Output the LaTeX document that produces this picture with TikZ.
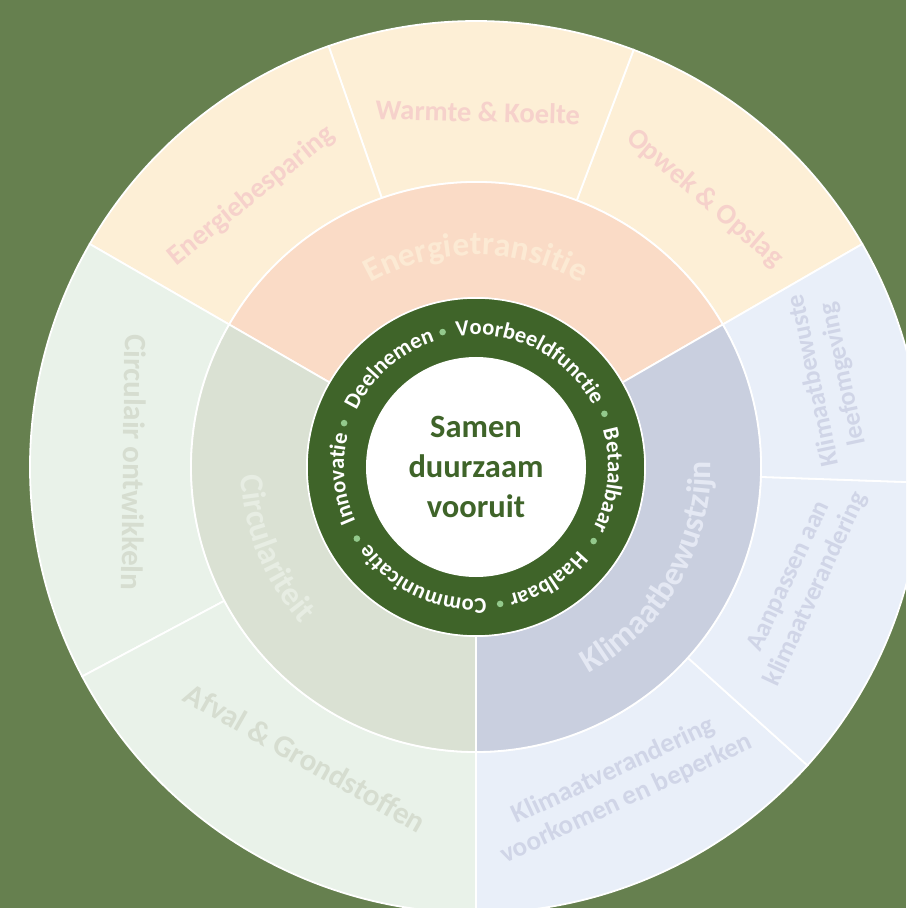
\documentclass[tikz,border=0pt]{standalone}
\usepackage{fontspec}
\setmainfont{Carlito}
\usetikzlibrary{decorations.text}
\definecolor{bg}{HTML}{66804F}
\definecolor{dkgreen}{HTML}{3F6429}
\definecolor{dotgreen}{HTML}{93C98C}
\definecolor{enmid}{HTML}{FADBC6}
\definecolor{enout}{HTML}{FDEFD6}
\definecolor{entxtmid}{HTML}{FCEAD4}
\definecolor{entxtout}{HTML}{F6D1CB}
\definecolor{cimid}{HTML}{DAE1D3}
\definecolor{ciout}{HTML}{E9F2E9}
\definecolor{citxtmid}{HTML}{E7EDE3}
\definecolor{citxtout}{HTML}{D6DDD0}
\definecolor{klmid}{HTML}{C9CFDF}
\definecolor{klout}{HTML}{E9EFF9}
\definecolor{kltxtmid}{HTML}{E4E8F3}
\definecolor{kltxtout}{HTML}{D0D5E7}
\newcommand{\annsector}[5]{%
  \filldraw[fill=#1, sectorline] (#2:#4pt) arc[start angle=#2, end angle=#3, radius=#4pt] -- (#3:#5pt) arc[start angle=#3, end angle=#2, radius=#5pt] -- cycle;}
\newcommand{\ringfont}{\fontsize{22.5}{22.5}\selectfont\bfseries\color{white}}
\newcommand{\midfont}{\fontsize{33.5}{33.5}\selectfont\bfseries}
\newcommand{\ringword}[2]{%
  \path[decorate, decoration={text along path, text align=center, text={|\ringfont|#2}}] ({#1+60}:132pt) arc[start angle={#1+60}, end angle={#1-60}, radius=132pt];}
\begin{document}
\begin{tikzpicture}[
  sectorline/.style={draw=white, line width=1.8pt},
  outlbl/.style={inner sep=0pt, align=center},
  ringdot/.style={fill=dotgreen},
]
\useasboundingbox (-476pt,-441pt) rectangle (430pt,467pt);
\clip (-476pt,-441pt) rectangle (430pt,467pt);
\fill[bg] (-476pt,-441pt) rectangle (430pt,467pt);
% outer ring
\annsector{enout}{30}{69.3}{285}{446}
\annsector{enout}{69.3}{109.3}{285}{446}
\annsector{enout}{109.3}{150}{285}{446}
\annsector{ciout}{150}{208}{285}{446}
\annsector{ciout}{208}{270}{285}{446}
\annsector{klout}{270}{318}{285}{446}
\annsector{klout}{318}{358}{285}{446}
\annsector{klout}{358}{390}{285}{446}
% middle ring
\annsector{enmid}{30}{150}{169}{285}
\annsector{cimid}{150}{270}{169}{285}
\annsector{klmid}{270}{390}{169}{285}
% core
\filldraw[fill=dkgreen, draw=white, line width=1.5pt] (0,0) circle[radius=169pt];
\fill[white] (0,0) circle[radius=110pt];
% ring words
\ringword{63.1}{Voorbeeldfunctie}
\ringword{-5.8}{Betaalbaar}
\ringword{-57.5}{Haalbaar}
\ringword{-115}{Communicatie}
\ringword{185}{Innovatie}
\ringword{131.5}{Deelnemen}
\foreach \a in {103.9,22.5,-32.2,-80,211,161.6}
  \fill[ringdot] (\a:139pt) circle[radius=3.3pt];
% center
\node[align=center, font=\fontsize{32.5}{40}\selectfont\bfseries, text=dkgreen] (core) at (0,0) {Samen\\duurzaam\\vooruit};
% middle labels
\path[decorate, decoration={text along path, text align=center, text={|\midfont\color{entxtmid}|Energietransitie}}] (150:212pt) arc[start angle=150, end angle=30, radius=212pt];
\path[decorate, decoration={text along path, text align=center, text={|\midfont\color{citxtmid}|Circulariteit}}] (152:235pt) arc[start angle=152, end angle=252, radius=235pt];
\path[decorate, decoration={text along path, text align=center, text={|\midfont\color{kltxtmid}|Klimaatbewustzijn}}] (-80:235pt) arc[start angle=-80, end angle=20, radius=235pt];
% outer labels
\node[outlbl, text=entxtout, rotate=39, font=\fontsize{28.5}{32}\selectfont\bfseries] (besp) at (129.6:352pt) {Energiebesparing};
\node[outlbl, text=entxtout, rotate=-1.5, font=\fontsize{28.5}{32}\selectfont\bfseries] (warm) at (89.7:355pt) {Warmte \& Koelte};
\node[outlbl, text=entxtout, rotate=-40.5, font=\fontsize{28.5}{32}\selectfont\bfseries] (opwek) at (49.6:353pt) {Opwek \& Opslag};
\node[outlbl, text=citxtout, rotate=-90.8, font=\fontsize{31}{35}\selectfont\bfseries] (circo) at (179.2:342pt) {Circulair ontwikkeln};
\node[outlbl, text=citxtout, rotate=-29.5, font=\fontsize{31}{35}\selectfont\bfseries] (afval) at (239.6:337pt) {Afval \& Grondstoffen};
\node[outlbl, text=kltxtout, rotate=102, font=\fontsize{26}{30}\selectfont\bfseries] (kbl) at (14.3:364pt) {Klimaatbewuste\\leefomgeving};
\node[outlbl, text=kltxtout, rotate=65, font=\fontsize{26}{30}\selectfont\bfseries] (aanp) at (-19.5:347pt) {Aanpassen aan\\klimaatverandering};
\node[outlbl, text=kltxtout, rotate=25, font=\fontsize{27}{31}\selectfont\bfseries] (kvvb) at (-65.6:349pt) {Klimaatverandering\\voorkomen en beperken};
\end{tikzpicture}
\end{document}
